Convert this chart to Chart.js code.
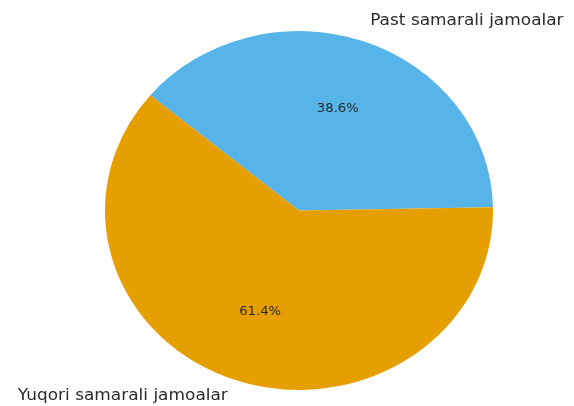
<!DOCTYPE html>
<html>
<head>
<meta charset="utf-8">
<script src="https://cdn.jsdelivr.net/npm/chart.js@4/dist/chart.umd.min.js"></script>
<style>
html,body{margin:0;padding:0;background:#fff;}
#wrap{width:574px;height:406px;position:relative;}
</style>
</head>
<body>
<div id="wrap"><canvas id="c" width="574" height="406"></canvas></div>
<script>
const categories = ["Past samarali jamoalar", "Yuqori samarali jamoalar"];
const values = [38.6, 61.4];
const colors = ["#56B4E9", "#E69F00"];

const Y_SCALE = 0.925;     // vertical squash of the pie (reference is elliptical)
const CENTER_Y = 210.5;    // target vertical centre of the ellipse
const X_STRETCH = 1.13;    // horizontal stretch of label text

const squash = {
  id: 'squash',
  beforeDatasetsDraw(chart) {
    const arc = chart.getDatasetMeta(0).data[0];
    const ctx = chart.ctx;
    ctx.save();
    ctx.translate(0, CENTER_Y);
    ctx.scale(1, Y_SCALE);
    ctx.translate(0, -arc.y);
  },
  afterDatasetsDraw(chart) {
    chart.ctx.restore();
  },
  afterDraw(chart) {
    const ctx = chart.ctx;
    const meta = chart.getDatasetMeta(0);
    const total = values.reduce((a, b) => a + b, 0);
    meta.data.forEach((arc, i) => {
      const mid = (arc.startAngle + arc.endAngle) / 2;
      const r = arc.outerRadius;
      const cx = arc.x;
      const put = (d, text, font, align, dy, sx) => {
        const x = cx + d * r * Math.cos(mid);
        const y = CENTER_Y + d * r * Y_SCALE * Math.sin(mid) + dy;
        ctx.save();
        ctx.translate(x, y);
        ctx.scale(sx, 1);
        ctx.font = font;
        ctx.fillStyle = '#2a2a2a';
        ctx.textAlign = align;
        ctx.textBaseline = 'middle';
        ctx.fillText(text, 0, 0);
        ctx.restore();
      };
      const pct = (values[i] / total * 100).toFixed(1) + '%';
      put(0.6, pct, '12px "DejaVu Sans"', 'center', 0, 1.1);
      const align = Math.cos(mid) >= 0 ? 'left' : 'right';
      put(1.1, categories[i], '15px "DejaVu Sans"', align, Math.sin(mid) < 0 ? -3 : 0, X_STRETCH);
    });
  }
};

new Chart(document.getElementById('c'), {
  type: 'pie',
  data: {
    labels: categories,
    datasets: [{
      data: values,
      backgroundColor: colors,
      borderWidth: 0,
      hoverOffset: 0
    }]
  },
  options: {
    responsive: false,
    animation: false,
    rotation: -50,
    layout: { padding: { left: 105, right: 81, top: 0, bottom: 0 } },
    plugins: { legend: { display: false }, tooltip: { enabled: false } },
    events: []
  },
  plugins: [squash]
});
</script>
</body>
</html>
